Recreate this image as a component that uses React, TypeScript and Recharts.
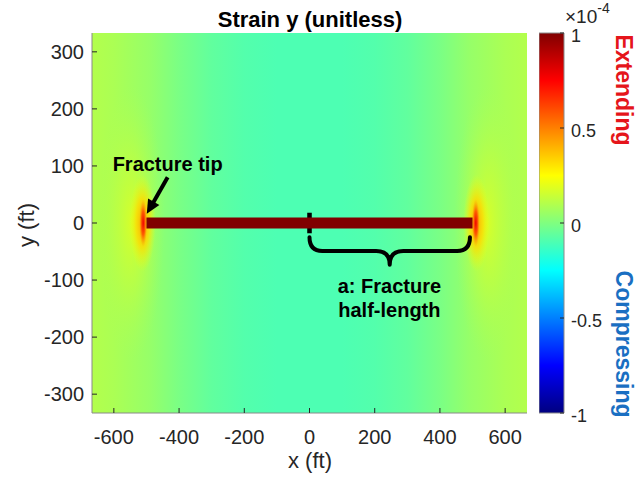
import React from "react";
import { ComposedChart, XAxis, YAxis, Line, Bar, CartesianGrid, ReferenceArea, ReferenceDot } from "recharts";

// model extent (ft) and axis ticks
const xDomain = [-667, 667];
const yDomain = [-333, 333];
const xTicks = [-600, -400, -200, 0, 200, 400, 600];
const yTicks = [-300, -200, -100, 0, 100, 200, 300];

// fracture: tips at +-a along y = 0, coloured at maximum strain
const fractureTips = [-500, 500];
const fractureY = [0, 0];
const fractureStrain = 1;

// far-field strain (x1e-4) sampled along x
const profileX = [-667, -600, -490, -400, -300, -200, -100, 0, 100, 200, 300, 400, 490, 600, 667];
const profileStrain = [0.1, 0.085, 0.045, -0.01, -0.06, -0.088, -0.1, -0.1, -0.1, -0.088, -0.06, -0.01, 0.045, 0.085, 0.1];

// strain concentration around each tip, outer halo -> core
const glowHalfWidth = [100, 40, 12];
const glowHalfHeight = [240, 85, 42];
const glowPeak = [0.22, 0.42, 0.78];
const glowEdge = [0.1, 0.22, 0.45];
const glowShift = [45, 12, 10];

// colorbar
const cbarRange = [-1, 1];
const cbarTicks = [-1, -0.5, 0, 0.5, 1];
const cbarStops = [-1, -0.75, -0.25, 0.25, 0.75, 1];

const title = "Strain y (unitless)";
const xLabel = "x (ft)";
const yLabel = "y (ft)";
const tipLabel = "Fracture tip";
const halfLengthLabel = ["a: Fracture", "half-length"];

const font = "'Liberation Sans', Arial, Helvetica, sans-serif";

const clamp = (n: number) => Math.max(0, Math.min(1, n));
const hex = (c: number) => Math.round(clamp(c) * 255).toString(16).padStart(2, "0");

// MATLAB jet colormap, v in [-1, 1]
function jet(v: number) {
  const t = (v + 1) / 2;
  const r = 1.5 - Math.abs(4 * t - 3);
  const g = 1.5 - Math.abs(4 * t - 2);
  const b = 1.5 - Math.abs(4 * t - 1);
  return `#${hex(r)}${hex(g)}${hex(b)}`;
}

const fracture = fractureTips.map((x, i) => ({ x, y: fractureY[i] }));
const cbarData = [{ name: "strain", range: cbarRange }];

const Brace = (p: any) => {
  const { x, y, width: w, height: h } = p;
  const mid = y + h * 0.5;
  const cx = x + w / 2;
  const d =
    `M${x},${y} Q${x},${mid} ${x + w * 0.08},${mid} L${cx - w * 0.085},${mid} ` +
    `Q${cx},${mid} ${cx},${y + h} Q${cx},${mid} ${cx + w * 0.085},${mid} ` +
    `L${x + w * 0.92},${mid} Q${x + w},${mid} ${x + w},${y}`;
  return <path d={d} fill="none" stroke="#000" strokeWidth={4} strokeLinecap="round" strokeLinejoin="round" />;
};

// arrow from the top-right corner of the box to its bottom-left corner
const Arrow = (p: any) => {
  const { x, y, width, height } = p;
  const x0 = x + width, y0 = y;
  const x1 = x, y1 = y + height;
  const len = Math.hypot(x1 - x0, y1 - y0);
  const ux = (x1 - x0) / len, uy = (y1 - y0) / len;
  const headLen = 14, headHalf = 6.5;
  const bx = x1 - ux * headLen, by = y1 - uy * headLen;
  return (
    <g>
      <line x1={x0} y1={y0} x2={bx + ux * 2} y2={by + uy * 2} stroke="#000" strokeWidth={4} />
      <polygon
        points={`${x1},${y1} ${bx - uy * headHalf},${by + ux * headHalf} ${bx + uy * headHalf},${by - ux * headHalf}`}
        fill="#000"
      />
    </g>
  );
};

const textBlock = (lines: string[]) => (p: any) => (
  <text x={p.cx} y={p.cy} textAnchor="middle" fontFamily={font} fontWeight="bold" fontSize={20} fill="#000">
    {lines.map((l, i) => (
      <tspan key={i} x={p.cx} dy={i === 0 ? `${0.35 - (lines.length - 1) * 0.6}em` : "1.2em"}>
        {l}
      </tspan>
    ))}
  </text>
);

const CbarTick = (p: any) => (
  <text x={p.x} y={p.y + 3} dy="0.35em" textAnchor="start" fontFamily={font} fontSize={18} fill="#262626">
    {p.payload.value}
  </text>
);

export default function App() {
  const tickStyle = { fill: "#262626", fontSize: 20, fontFamily: font };
  const tickLine = { stroke: "#262626" };
  const boxLine = { stroke: "#8a8a8a" };
  const xSpan = xDomain[1] - xDomain[0];

  return (
    <div style={{ position: "absolute", left: 0, top: 0, width: 638, height: 483, background: "#fff" }}>
      <ComposedChart
        width={638}
        height={483}
        data={fracture}
        margin={{ top: 33, right: 111, bottom: 40, left: 0 }}
      >
        <defs>
          <linearGradient id="field" x1="0" y1="0" x2="1" y2="0">
            {profileX.map((x, i) => (
              <stop key={i} offset={(x - xDomain[0]) / xSpan} stopColor={jet(profileStrain[i])} />
            ))}
          </linearGradient>
          {glowPeak.map((peak, i) => (
            <radialGradient key={i} id={`glow${i}`} cx="0.5" cy="0.5" r="0.5">
              <stop offset="0" stopColor={jet(peak)} stopOpacity={i === 0 ? 0.7 : 1} />
              <stop offset="0.5" stopColor={jet((peak + glowEdge[i]) / 2)} stopOpacity={i === 0 ? 0.4 : 0.8} />
              <stop offset="1" stopColor={jet(glowEdge[i])} stopOpacity={0} />
            </radialGradient>
          ))}
        </defs>

        {/* strain field background */}
        <CartesianGrid horizontal={false} vertical={false} fill="url(#field)" fillOpacity={1} />

        {fractureTips.map((tip) =>
          glowPeak.map((_, i) => {
            const cx = tip + Math.sign(tip) * glowShift[i];
            return (
              <ReferenceArea
                key={`${tip}-${i}`}
                x1={cx - glowHalfWidth[i]}
                x2={cx + glowHalfWidth[i]}
                y1={-glowHalfHeight[i]}
                y2={glowHalfHeight[i]}
                fill={`url(#glow${i})`}
                fillOpacity={1}
                stroke="none"
              />
            );
          })
        )}
        <Line
          dataKey="y"
          stroke={jet(fractureStrain)}
          strokeWidth={11}
          strokeLinecap="butt"
          dot={false}
          activeDot={false}
          isAnimationActive={false}
        />
        {/* start of the half-length */}
        <ReferenceArea x1={-7} x2={7} y1={-18} y2={18} fill="#000" fillOpacity={1} stroke="none" />
        <ReferenceArea x1={0} x2={fractureTips[1] - 8} y1={-73} y2={-25} shape={Brace} />
        <ReferenceArea x1={fractureTips[0] + 1} x2={-435} y1={16} y2={80} shape={Arrow} />

        <ReferenceDot x={-435} y={103} r={1} shape={textBlock([tipLabel])} />
        <ReferenceDot x={245} y={-131} r={1} shape={textBlock(halfLengthLabel)} />

        <XAxis
          dataKey="x"
          type="number"
          domain={xDomain}
          ticks={xTicks}
          allowDataOverflow
          interval={0}
          height={30}
          tickSize={-5}
          tickMargin={22}
          tick={tickStyle}
          tickLine={tickLine}
          axisLine={boxLine}
        />
        <XAxis
          xAxisId="top"
          dataKey="x"
          orientation="top"
          type="number"
          domain={xDomain}
          ticks={xTicks}
          allowDataOverflow
          interval={0}
          height={0}
          tickSize={-5}
          tick={false}
          tickLine={tickLine}
          axisLine={boxLine}
        />
        <YAxis
          type="number"
          domain={yDomain}
          ticks={yTicks}
          allowDataOverflow
          interval={0}
          width={92}
          tickSize={-5}
          tickMargin={13}
          tick={tickStyle}
          tickLine={tickLine}
          axisLine={boxLine}
        />
        <YAxis
          yAxisId="right"
          orientation="right"
          type="number"
          domain={yDomain}
          ticks={yTicks}
          allowDataOverflow
          interval={0}
          width={0}
          tickSize={-5}
          tick={false}
          tickLine={tickLine}
          axisLine={boxLine}
        />
      </ComposedChart>

      <div style={{ position: "absolute", left: 539, top: 0 }}>
        <ComposedChart
          width={99}
          height={483}
          data={cbarData}
          barCategoryGap={0}
          margin={{ top: 33, right: 0, bottom: 70, left: 0 }}
        >
          <defs>
            <linearGradient id="jetBar" x1="0" y1="1" x2="0" y2="0">
              {cbarStops.map((v, i) => (
                <stop key={i} offset={(v + 1) / 2} stopColor={jet(v)} />
              ))}
            </linearGradient>
          </defs>
          <Bar dataKey="range" fill="url(#jetBar)" stroke="#8a8a8a" isAnimationActive={false} />
          <XAxis dataKey="name" hide />
          <YAxis
            orientation="right"
            type="number"
            domain={cbarRange}
            ticks={cbarTicks}
            interval={0}
            width={74}
            tickSize={-4}
            tickMargin={11}
            tick={CbarTick}
            tickLine={tickLine}
            axisLine={false}
          />
        </ComposedChart>
      </div>

      <svg width={638} height={483} style={{ position: "absolute", left: 0, top: 0, pointerEvents: "none" }}>
        <text x={310} y={27} textAnchor="middle" fontFamily={font} fontWeight="bold" fontSize={22} fill="#000">
          {title}
        </text>
        <text x={310} y={468} textAnchor="middle" fontFamily={font} fontSize={22} fill="#262626">
          {xLabel}
        </text>
        <text
          x={34}
          y={225}
          transform="rotate(-90 34 225)"
          textAnchor="middle"
          fontFamily={font}
          fontSize={22}
          fill="#262626"
        >
          {yLabel}
        </text>
        <text x={565} y={23} fontFamily={font} fontSize={19} fill="#262626">
          ×10
          <tspan dy={-10} fontSize={14}>
            -4
          </tspan>
        </text>
        <text
          transform="translate(624 90) rotate(90)"
          dy="0.35em"
          textAnchor="middle"
          fontFamily={font}
          fontWeight="bold"
          fontSize={23}
          fill="#e5151b"
        >
          Extending
        </text>
        <text
          transform="translate(624 344) rotate(90)"
          dy="0.35em"
          textAnchor="middle"
          fontFamily={font}
          fontWeight="bold"
          fontSize={23}
          fill="#1a6fc2"
        >
          Compressing
        </text>
      </svg>
    </div>
  );
}
